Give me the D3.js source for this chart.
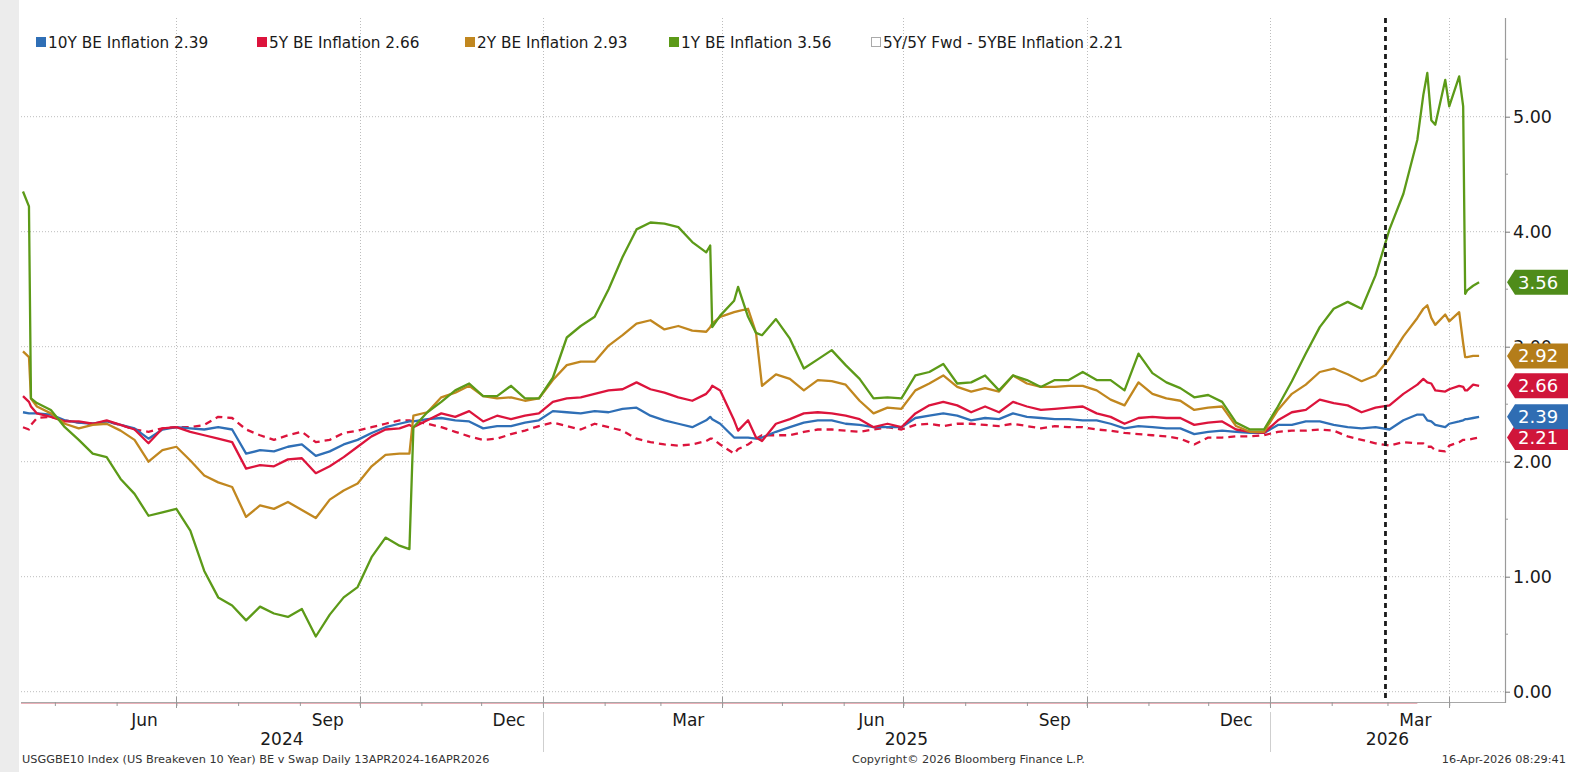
<!DOCTYPE html>
<html><head><meta charset="utf-8">
<script src="https://cdn.jsdelivr.net/npm/d3@7"></script>
<style>
html,body{margin:0;padding:0;background:#fff;}
svg{display:block;font-family:"DejaVu Sans",Verdana,sans-serif;}
</style></head><body>
<svg id="chart" width="1582" height="772"></svg>
<script>
// ---------------- DATA ----------------
const dates = ["2024-04-15","2024-04-18","2024-04-19","2024-04-22","2024-04-29","2024-05-06","2024-05-13","2024-05-20","2024-05-27","2024-06-03","2024-06-10","2024-06-17","2024-06-24","2024-07-01","2024-07-08","2024-07-15","2024-07-22","2024-07-29","2024-08-05","2024-08-12","2024-08-19","2024-08-26","2024-09-02","2024-09-09","2024-09-16","2024-09-23","2024-09-30","2024-10-07","2024-10-14","2024-10-21","2024-10-26","2024-10-28","2024-11-04","2024-11-11","2024-11-18","2024-11-25","2024-12-02","2024-12-09","2024-12-16","2024-12-23","2024-12-30","2025-01-06","2025-01-13","2025-01-20","2025-01-27","2025-02-03","2025-02-10","2025-02-17","2025-02-24","2025-03-03","2025-03-10","2025-03-17","2025-03-24","2025-03-26","2025-03-27","2025-03-31","2025-04-07","2025-04-09","2025-04-14","2025-04-18","2025-04-21","2025-04-28","2025-05-05","2025-05-12","2025-05-19","2025-05-26","2025-06-02","2025-06-09","2025-06-16","2025-06-23","2025-06-30","2025-07-07","2025-07-14","2025-07-21","2025-07-28","2025-08-04","2025-08-11","2025-08-18","2025-08-25","2025-09-01","2025-09-08","2025-09-15","2025-09-22","2025-09-29","2025-10-06","2025-10-13","2025-10-20","2025-10-27","2025-11-03","2025-11-10","2025-11-17","2025-11-24","2025-12-01","2025-12-08","2025-12-15","2025-12-22","2025-12-29","2026-01-05","2026-01-12","2026-01-19","2026-01-26","2026-02-02","2026-02-09","2026-02-16","2026-02-23","2026-03-02","2026-03-09","2026-03-16","2026-03-19","2026-03-21","2026-03-23","2026-03-25","2026-03-30","2026-04-01","2026-04-06","2026-04-08","2026-04-09","2026-04-10","2026-04-13","2026-04-16"];

const be10y = [2.43,2.42,2.42,2.42,2.41,2.36,2.34,2.33,2.35,2.32,
2.29,2.20,2.28,2.30,2.29,2.28,2.30,2.28,2.07,2.10,
2.09,2.13,2.15,2.05,2.09,2.15,2.19,2.25,2.30,2.33,
2.35,2.35,2.37,2.38,2.36,2.35,2.29,2.31,2.31,2.34,
2.36,2.44,2.43,2.42,2.44,2.43,2.46,2.47,2.40,2.36,
2.33,2.30,2.36,2.39,2.37,2.33,2.21,2.21,2.21,2.20,
2.21,2.26,2.30,2.34,2.36,2.36,2.33,2.32,2.30,2.30,
2.30,2.38,2.40,2.42,2.40,2.36,2.38,2.37,2.42,2.39,
2.38,2.37,2.37,2.36,2.36,2.33,2.29,2.31,2.30,2.29,
2.29,2.24,2.26,2.27,2.26,2.25,2.25,2.32,2.32,2.35,
2.35,2.32,2.30,2.29,2.30,2.28,2.36,2.41,2.41,2.36,
2.35,2.32,2.30,2.33,2.35,2.36,2.37,2.37,2.38,2.39];

const be5y = [2.57,2.52,2.48,2.42,2.39,2.35,2.35,2.33,2.36,2.32,
2.28,2.16,2.29,2.30,2.26,2.23,2.20,2.17,1.94,1.97,
1.96,2.02,2.03,1.90,1.96,2.04,2.13,2.22,2.28,2.29,
2.32,2.30,2.36,2.42,2.39,2.44,2.35,2.40,2.37,2.40,
2.42,2.52,2.55,2.56,2.59,2.62,2.63,2.69,2.63,2.60,
2.56,2.53,2.59,2.63,2.66,2.62,2.36,2.27,2.36,2.21,
2.18,2.33,2.37,2.42,2.43,2.42,2.40,2.37,2.30,2.33,
2.30,2.42,2.49,2.52,2.49,2.43,2.48,2.43,2.52,2.48,
2.45,2.46,2.47,2.48,2.42,2.39,2.33,2.38,2.39,2.38,
2.38,2.32,2.34,2.35,2.28,2.26,2.25,2.36,2.43,2.45,
2.54,2.51,2.49,2.43,2.47,2.49,2.59,2.67,2.72,2.69,
2.68,2.62,2.61,2.63,2.66,2.65,2.62,2.62,2.67,2.66];

const be2y = [2.96,2.91,2.55,2.48,2.42,2.33,2.29,2.32,2.33,2.27,
2.19,2.00,2.10,2.13,2.01,1.88,1.82,1.78,1.52,1.62,
1.59,1.65,1.58,1.51,1.67,1.75,1.81,1.96,2.06,2.07,
2.07,2.40,2.43,2.56,2.60,2.66,2.57,2.55,2.56,2.53,
2.55,2.71,2.84,2.87,2.87,3.01,3.10,3.20,3.23,3.15,
3.18,3.14,3.13,3.17,3.20,3.26,3.30,3.31,3.33,3.12,
2.66,2.76,2.72,2.62,2.71,2.70,2.67,2.53,2.42,2.47,
2.46,2.62,2.68,2.75,2.65,2.61,2.64,2.61,2.75,2.68,
2.65,2.65,2.66,2.66,2.62,2.54,2.49,2.69,2.59,2.55,
2.53,2.45,2.47,2.48,2.31,2.26,2.26,2.45,2.59,2.67,
2.78,2.81,2.76,2.70,2.75,2.90,3.09,3.25,3.33,3.36,
3.25,3.19,3.28,3.22,3.30,3.03,2.91,2.91,2.92,2.92];

const be1y = [4.35,4.22,2.55,2.51,2.45,2.30,2.19,2.07,2.04,1.85,
1.72,1.53,1.56,1.59,1.40,1.05,0.82,0.75,0.62,0.74,
0.68,0.65,0.72,0.48,0.67,0.82,0.91,1.17,1.34,1.27,
1.24,2.30,2.43,2.52,2.62,2.68,2.57,2.57,2.66,2.55,
2.55,2.73,3.08,3.18,3.26,3.50,3.78,4.02,4.08,4.07,
4.04,3.91,3.82,3.88,3.17,3.27,3.40,3.52,3.26,3.12,
3.10,3.24,3.07,2.81,2.89,2.97,2.84,2.72,2.55,2.56,
2.55,2.75,2.78,2.85,2.68,2.69,2.75,2.62,2.75,2.71,
2.65,2.71,2.71,2.78,2.71,2.71,2.62,2.94,2.77,2.69,
2.64,2.56,2.58,2.52,2.34,2.28,2.28,2.48,2.70,2.94,
3.17,3.33,3.39,3.33,3.62,4.02,4.33,4.80,5.19,5.38,
4.97,4.93,5.32,5.09,5.35,5.09,3.46,3.49,3.53,3.56];

const fwd5y5yLess5y = [2.30,2.28,2.32,2.38,2.39,2.36,2.34,2.33,2.35,2.32,
2.28,2.26,2.29,2.30,2.30,2.32,2.39,2.38,2.28,2.23,
2.19,2.23,2.26,2.17,2.19,2.25,2.27,2.30,2.33,2.36,
2.36,2.35,2.33,2.30,2.26,2.22,2.19,2.20,2.24,2.27,
2.31,2.34,2.31,2.28,2.33,2.30,2.27,2.20,2.17,2.15,
2.14,2.15,2.18,2.20,2.20,2.15,2.07,2.11,2.15,2.20,
2.23,2.23,2.23,2.26,2.28,2.28,2.27,2.26,2.28,2.30,
2.28,2.32,2.33,2.31,2.33,2.33,2.32,2.31,2.33,2.31,
2.29,2.31,2.30,2.30,2.28,2.27,2.25,2.24,2.23,2.22,
2.20,2.15,2.21,2.21,2.22,2.22,2.23,2.26,2.27,2.27,
2.28,2.27,2.22,2.19,2.16,2.14,2.17,2.16,2.16,2.13,
2.13,2.10,2.09,2.14,2.17,2.19,2.19,2.19,2.20,2.21];

const seriesNames = ["10Y BE Inflation","5Y BE Inflation","2Y BE Inflation","1Y BE Inflation","5Y/5Y Fwd - 5YBE Inflation"];
const legendValues = [2.39, 2.66, 2.93, 3.56, 2.21];
const yTickValues = [0, 1, 2, 3, 4, 5];
const monthLabels = ["Jun","Sep","Dec","Mar"];
const yearLabels = ["2024","2025","2026"];
const markerDates = ["2026-02-28"];
const footerLeft = "USGGBE10 Index (US Breakeven 10 Year) BE v Swap Daily 13APR2024-16APR2026";
const footerMid = "Copyright\u00A9 2026 Bloomberg Finance L.P.";
const footerRight = "16-Apr-2026 08:29:41";

// ---------------- STYLE / LAYOUT ----------------
const colors = ["#2f6fb6", "#dc143c", "#c1871f", "#5c9a18", "#dc143c"];
const tagColors = ["#2f6db3", "#d0153a", "#b47d1a", "#4f8c1a", "#d0153a"];
const W = 1582, H = 772;
const plot = {left: 21, right: 1505, top: 18, bottom: 702};
const parse = d3.timeParse("%Y-%m-%d");
const seriesValues = [be10y, be5y, be2y, be1y, fwd5y5yLess5y];
const dts = dates.map(parse);

const svg = d3.select("#chart");
const x = d3.scaleTime().domain([parse("2024-04-14"), parse("2026-04-29")]).range([plot.left, plot.right]);
const y = d3.scaleLinear().domain([0, 5]).range([691.7, 116.7]);

svg.append("rect").attr("width", W).attr("height", H).attr("fill", "#ffffff");
svg.append("rect").attr("x", 0).attr("y", 0).attr("width", 19).attr("height", H).attr("fill", "#ececec");

// grid
const gGrid = svg.append("g");
gGrid.selectAll("line.h").data(yTickValues).join("line")
  .attr("x1", plot.left).attr("x2", plot.right)
  .attr("y1", d => y(d)).attr("y2", d => y(d))
  .attr("stroke", "#bdbdbd").attr("stroke-width", 1).attr("stroke-dasharray", "1,2");
const quarterStarts = d3.timeMonth.every(3).range(parse("2024-06-01"), x.domain()[1]).filter(d => [0,3,6,9].includes(d.getMonth()));
gGrid.selectAll("line.v").data(quarterStarts).join("line")
  .attr("x1", d => Math.round(x(d)) + 0.5).attr("x2", d => Math.round(x(d)) + 0.5)
  .attr("y1", plot.top).attr("y2", plot.bottom)
  .attr("stroke", "#bdbdbd").attr("stroke-width", 1).attr("stroke-dasharray", "1,2");

// bottom axis line
svg.append("line").attr("x1", plot.left).attr("x2", plot.right).attr("y1", plot.bottom + 0.5).attr("y2", plot.bottom + 0.5)
  .attr("stroke", "#a8a8a8").attr("stroke-width", 1);
svg.append("line").attr("x1", plot.left).attr("x2", x(parse("2026-03-16"))).attr("y1", plot.bottom + 1.5).attr("y2", plot.bottom + 1.5)
  .attr("stroke", "#eab0b8").attr("stroke-width", 1);

// month ticks via d3 axis
const months = d3.timeMonth.range(parse("2024-05-01"), x.domain()[1]);
const xAxis = d3.axisBottom(x).tickValues(months).tickFormat("").tickSize(4);
const gx = svg.append("g").attr("transform", `translate(0,${plot.bottom})`).call(xAxis);
gx.select(".domain").remove();
gx.selectAll(".tick line").attr("stroke", "#999");
svg.append("g").selectAll("line").data(quarterStarts).join("line")
  .attr("x1", d => Math.round(x(d)) + 0.5).attr("x2", d => Math.round(x(d)) + 0.5)
  .attr("y1", plot.bottom - 5).attr("y2", plot.bottom + 6).attr("stroke", "#999");

// month labels (mid-month)
const labelMonths = months.filter(d => [5,8,11,2].includes(d.getMonth()));
svg.append("g").selectAll("text").data(labelMonths).join("text")
  .attr("x", d => x(d3.timeDay.offset(d, 14)))
  .attr("y", 726).attr("text-anchor", "middle")
  .attr("font-size", 17).attr("fill", "#1a1a1a")
  .text(d => monthLabels[[5,8,11,2].indexOf(d.getMonth())]);

// year labels and separators
const yearStarts = [parse("2025-01-01"), parse("2026-01-01")];
svg.append("g").selectAll("line").data(yearStarts).join("line")
  .attr("x1", d => Math.round(x(d)) + 0.5).attr("x2", d => Math.round(x(d)) + 0.5)
  .attr("y1", 712).attr("y2", 752).attr("stroke", "#cfcfcf");
const bounds = [plot.left, x(yearStarts[0]), x(yearStarts[1]), plot.right];
svg.append("g").selectAll("text").data(yearLabels).join("text")
  .attr("x", (d, i) => (bounds[i] + bounds[i + 1]) / 2)
  .attr("y", 745).attr("text-anchor", "middle")
  .attr("font-size", 17).attr("fill", "#1a1a1a").text(d => d);

// right axis
svg.append("line").attr("x1", plot.right + 0.5).attr("x2", plot.right + 0.5).attr("y1", plot.top).attr("y2", plot.bottom + 1)
  .attr("stroke", "#9a9a9a").attr("stroke-width", 1.2);
const yAxis = d3.axisRight(y).tickValues(yTickValues).tickFormat(d3.format(".2f")).tickSize(5).tickPadding(3);
const gy = svg.append("g").attr("transform", `translate(${plot.right},0)`).call(yAxis);
gy.select(".domain").remove();
gy.selectAll(".tick line").attr("stroke", "#777");
gy.selectAll(".tick text").attr("font-size", 17.5).attr("fill", "#1a1a1a").attr("font-family", "DejaVu Sans, sans-serif");
svg.append("g").selectAll("line").data([0.5,1.5,2.5,3.5,4.5,5.5]).join("line")
  .attr("x1", plot.right).attr("x2", plot.right + 3).attr("y1", d => y(d)).attr("y2", d => y(d)).attr("stroke", "#999");

// series lines
const line = d3.line().x((d, i) => x(dts[i])).y(d => y(d));
const order = [4, 0, 1, 2, 3];
order.forEach(s => {
  svg.append("path").datum(seriesValues[s])
    .attr("d", line).attr("fill", "none")
    .attr("stroke", colors[s]).attr("stroke-width", 2.3)
    .attr("stroke-linejoin", "round")
    .attr("stroke-dasharray", s === 4 ? "7,5" : null);
});

// event marker
svg.append("g").selectAll("line").data(markerDates.map(parse)).join("line")
  .attr("x1", d => x(d)).attr("x2", d => x(d)).attr("y1", plot.top).attr("y2", plot.bottom)
  .attr("stroke", "#1a1a1a").attr("stroke-width", 2.8).attr("stroke-dasharray", "5,4");

// last value tags
const tags = seriesValues.map((v, i) => ({i, v: v[v.length - 1]})).sort((a, b) => a.v - b.v);
const gTags = svg.append("g");
tags.forEach(t => {
  const yc = y(t.v), h = 12.5, x0 = plot.right + 2, xb = x0 + 8, x1 = 1568;
  gTags.append("path")
    .attr("d", `M${x0},${yc} L${xb},${yc - h} L${x1},${yc - h} L${x1},${yc + h} L${xb},${yc + h} Z`)
    .attr("fill", tagColors[t.i]);
  gTags.append("text").attr("x", xb + 3).attr("y", yc).attr("dy", "0.36em")
    .attr("font-size", 18).attr("fill", "#ffffff").text(d3.format(".2f")(t.v));
});

// legend
const legendX = [36, 257, 465, 669, 871];
const gLeg = svg.append("g");
seriesNames.forEach((n, i) => {
  if (i < 4) {
    gLeg.append("rect").attr("x", legendX[i]).attr("y", 37).attr("width", 10).attr("height", 10).attr("fill", colors[i]);
  } else {
    gLeg.append("rect").attr("x", legendX[i] + 0.5).attr("y", 37.5).attr("width", 9).attr("height", 9)
      .attr("fill", "#fff").attr("stroke", "#aaa");
  }
  gLeg.append("text").attr("x", legendX[i] + 12).attr("y", 47.5)
    .attr("font-size", 15.3).attr("fill", "#1a1a1a").text(n + " " + d3.format(".2f")(legendValues[i]));
});

// footer
svg.append("text").attr("x", 22).attr("y", 763).attr("font-size", 11.3).attr("fill", "#333").text(footerLeft);
svg.append("text").attr("x", 852).attr("y", 763).attr("font-size", 11.3).attr("fill", "#333").text(footerMid);
svg.append("text").attr("x", 1566).attr("y", 763).attr("text-anchor", "end").attr("font-size", 11.3).attr("fill", "#333").text(footerRight);
</script>
</body></html>
